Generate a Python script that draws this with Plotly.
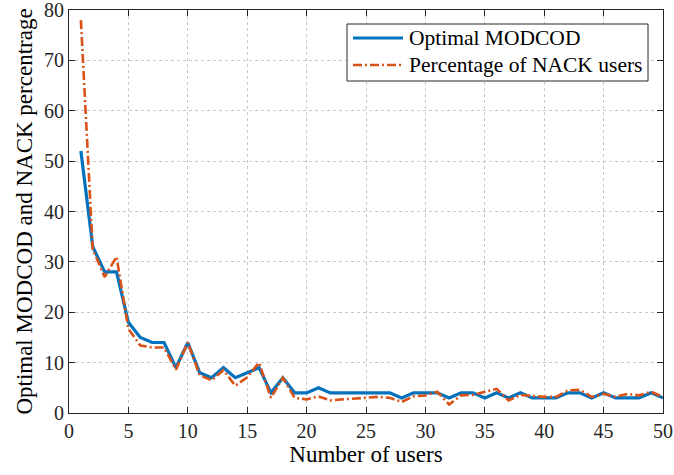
import plotly.graph_objects as go

users = list(range(1, 51))
optimal_modcod = [52, 33, 28, 28, 18, 15, 14, 14, 9, 14,
                  8, 7, 9, 7, 8, 9, 4, 7, 4, 4,
                  5, 4, 4, 4, 4, 4, 4, 3, 4, 4,
                  4, 3, 4, 4, 3, 4, 3, 4, 3, 3,
                  3, 4, 4, 3, 4, 3, 3, 3, 4, 3]
nack_percentage = [78, 32.5, 27, 31, 16.7, 13.4, 13, 13, 8.6, 14,
                   7.5, 6.5, 8.5, 5.4, 7.1, 10, 3, 7, 3, 2.7,
                   3.3, 2.5, 2.7, 2.9, 3.1, 3.2, 3.0, 2.2, 3.3, 3.5,
                   4.2, 1.7, 3.5, 3.6, 4.2, 4.8, 2.5, 3.6, 3.4, 3.2,
                   3.2, 4.5, 4.6, 3.2, 3.8, 3.2, 3.8, 3.5, 4.2, 3.2]

x_ticks = list(range(0, 51, 5))
y_ticks = list(range(0, 81, 10))

font_family = "Liberation Serif, Times New Roman, serif"

W, H = 674, 475
M = dict(l=69, r=11, t=10, b=62)
plot_w = W - M["l"] - M["r"]
plot_h = H - M["t"] - M["b"]


def px_to_paper(px, py):
    """Convert page pixel position to plot-area (paper) fractions."""
    return (px - M["l"]) / plot_w, (H - M["b"] - py) / plot_h


series = [
    dict(name="Optimal MODCOD", y=optimal_modcod,
         line=dict(color="#0072BD", width=3.2)),
    dict(name="Percentage of NACK users", y=nack_percentage,
         line=dict(color="#D95319", width=2.6, dash="9px,3px,2px,3px")),
]

fig = go.Figure()
for s in series:
    fig.add_trace(go.Scatter(x=users, y=s["y"], mode="lines",
                             name=s["name"], line=s["line"]))

axis_common = dict(
    showline=True, linecolor="#262626", linewidth=1, mirror="ticks",
    ticks="inside", ticklen=6, tickcolor="#262626",
    showgrid=True, gridcolor="#c8c8c8", griddash="dot", gridwidth=1,
    zeroline=False, automargin=False, ticklabeloverflow="allow",
    tickfont=dict(family=font_family, size=20, color="#262626"),
)

fig.update_xaxes(range=[0, 50], tickvals=x_ticks,
                 title=dict(text="Number of users", standoff=2,
                            font=dict(family=font_family, size=23, color="#000")),
                 **axis_common)
fig.update_yaxes(range=[0, 80], tickvals=y_ticks,
                 title=dict(text="Optimal MODCOD and NACK percentrage", standoff=4,
                            font=dict(family=font_family, size=23, color="#000")),
                 **axis_common)

# Legend box drawn with shapes and annotations for tight row spacing
bx0, by0 = px_to_paper(347, 81)
bx1, by1 = px_to_paper(648, 24)
fig.add_shape(type="rect", xref="paper", yref="paper",
              x0=bx0, x1=bx1, y0=by0, y1=by1,
              line=dict(color="#262626", width=1), fillcolor="white", layer="above")
for i, s in enumerate(series):
    row_y = 38 + 27 * i
    lx0, ly = px_to_paper(353, row_y)
    lx1, _ = px_to_paper(403, row_y)
    fig.add_shape(type="line", xref="paper", yref="paper",
                  x0=lx0, x1=lx1, y0=ly, y1=ly, line=s["line"], layer="above")
    tx, _ = px_to_paper(407, row_y)
    fig.add_annotation(xref="paper", yref="paper", x=tx, y=ly,
                       xanchor="left", yanchor="middle", showarrow=False,
                       text=s["name"],
                       font=dict(family=font_family, size=21.5, color="#000"))

fig.update_layout(
    width=W, height=H,
    margin=M,
    plot_bgcolor="white", paper_bgcolor="white",
    font=dict(family=font_family, color="#000"),
    showlegend=False,
)

fig.write_html("out.html")
